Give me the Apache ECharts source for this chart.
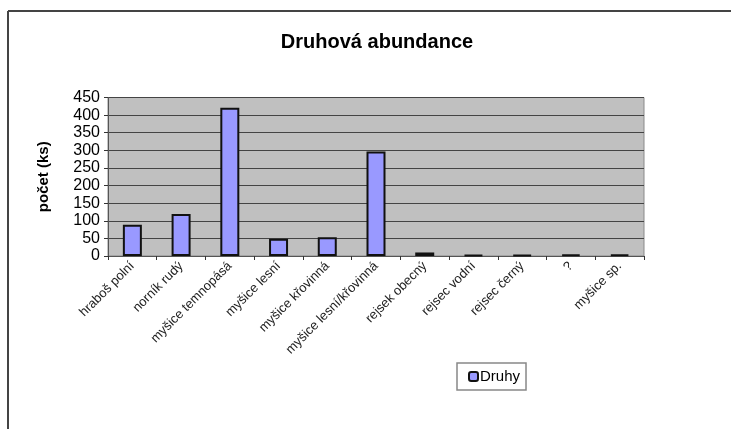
<!DOCTYPE html>
<html>
<head>
<meta charset="utf-8">
<script src="https://cdn.jsdelivr.net/npm/echarts@6/dist/echarts.min.js"></script>
<style>
  html, body { margin: 0; padding: 0; background: #fff; }
  #chart { width: 731px; height: 429px; }
</style>
</head>
<body>
<div id="chart"></div>
<script>
// druhy (kategorie na ose x)
var species = ['hraboš polní', 'norník rudý', 'myšice temnopásá', 'myšice lesní', 'myšice křovinná',
  'myšice lesní/křovinná', 'rejsek obecný', 'rejsec vodní', 'rejsec černý', '?', 'myšice sp.'];
// počet kusů
var counts = [89, 119, 421, 49, 53, 297, 10, 3, 3, 4, 4];
var yTicks = [0, 50, 100, 150, 200, 250, 300, 350, 400, 450];

var chart = echarts.init(document.getElementById('chart'));
var font = 'Liberation Sans, Arial, sans-serif';

chart.setOption({
  animation: false,
  title: {
    text: 'Druhová abundance',
    left: 372, top: 27, textAlign: 'center',
    textStyle: { fontFamily: font, fontSize: 20, fontWeight: 'bold', color: '#000' }
  },
  legend: {
    data: ['Druhy'],
    left: 457, top: 363,
    itemWidth: 9, itemHeight: 9, itemGap: 4,
    padding: [6, 6, 6, 11],
    borderColor: '#888', borderWidth: 1.5,
    textStyle: { fontFamily: font, fontSize: 15, color: '#000', padding: [0, 0, 0, -3] }
  },
  grid: {
    left: 108, right: 87, top: 97.5, bottom: 173,
    show: true, backgroundColor: '#c0c0c0', borderColor: '#8a8a8a', borderWidth: 1
  },
  xAxis: {
    type: 'category',
    data: species,
    axisLine: { lineStyle: { color: '#555' } },
    axisTick: { show: true, length: 4, lineStyle: { color: '#333' } },
    axisLabel: {
      rotate: 45, interval: 0, margin: 8,
      fontFamily: font, fontSize: 13, color: '#222'
    }
  },
  yAxis: {
    type: 'value',
    min: yTicks[0], max: yTicks[yTicks.length - 1], interval: 50,
    name: 'počet (ks)', nameLocation: 'middle', nameRotate: 90, nameGap: 57,
    nameTextStyle: { fontFamily: font, fontSize: 15, fontWeight: 'bold', color: '#000' },
    axisLine: { show: true, lineStyle: { color: '#555' } },
    axisTick: { show: true, length: 4, lineStyle: { color: '#333' } },
    axisLabel: { fontFamily: font, fontSize: 16, color: '#000', margin: 8 },
    splitLine: { lineStyle: { color: '#444', width: 1 } }
  },
  series: [{
    name: 'Druhy',
    type: 'bar',
    data: counts,
    barWidth: 19,
    itemStyle: { color: '#9999ff', borderColor: '#111', borderWidth: 2 }
  }],
  graphic: [
    { type: 'line', shape: { x1: 8, y1: 11, x2: 731, y2: 11 }, style: { stroke: '#444', lineWidth: 2 } },
    { type: 'line', shape: { x1: 8, y1: 11, x2: 8, y2: 429 }, style: { stroke: '#444', lineWidth: 2 } }
  ]
});
</script>
</body>
</html>
